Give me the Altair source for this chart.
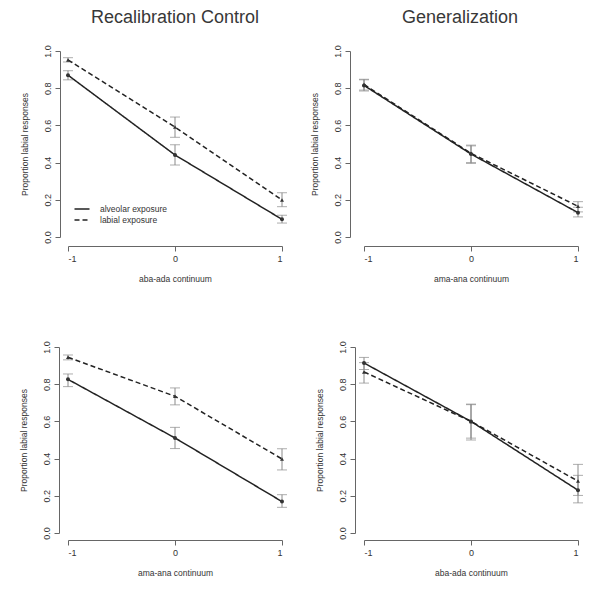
import altair as alt
import pandas as pd

x_levels = [-1, 0, 1]
y_ticks = [0.0, 0.2, 0.4, 0.6, 0.8, 1.0]
series_names = ["alveolar exposure", "labial exposure"]
series_shapes = ["circle", "triangle-up"]

panel_titles = ["Recalibration Control", "Generalization", "", ""]
x_titles = ["aba-ada continuum", "ama-ana continuum", "ama-ana continuum", "aba-ada continuum"]
y_title = "Proportion labial responses"

# Panel A: Recalibration Control (aba-ada)
a_alv = [0.870, 0.441, 0.095]
a_alv_lo = [0.845, 0.387, 0.075]
a_alv_hi = [0.894, 0.496, 0.117]
a_lab = [0.952, 0.591, 0.199]
a_lab_lo = [0.941, 0.536, 0.163]
a_lab_hi = [0.964, 0.645, 0.238]

# Panel B: Generalization (ama-ana)
b_alv = [0.815, 0.446, 0.131]
b_alv_lo = [0.785, 0.396, 0.108]
b_alv_hi = [0.845, 0.494, 0.160]
b_lab = [0.820, 0.450, 0.165]
b_lab_lo = [0.790, 0.400, 0.135]
b_lab_hi = [0.848, 0.490, 0.190]

# Panel C: Recalibration Control (ama-ana)
c_alv = [0.826, 0.511, 0.169]
c_alv_lo = [0.787, 0.454, 0.138]
c_alv_hi = [0.855, 0.568, 0.206]
c_lab = [0.945, 0.735, 0.398]
c_lab_lo = [0.931, 0.689, 0.339]
c_lab_hi = [0.957, 0.780, 0.453]

# Panel D: Generalization (aba-ada)
d_alv = [0.914, 0.600, 0.230]
d_alv_lo = [0.879, 0.500, 0.162]
d_alv_hi = [0.944, 0.693, 0.310]
d_lab = [0.866, 0.600, 0.279]
d_lab_lo = [0.806, 0.510, 0.202]
d_lab_hi = [0.916, 0.690, 0.369]

FONT = "Liberation Sans"
GREY = "#8a8a8a"
INK = "#222222"


def make_df(alv, alv_lo, alv_hi, lab, lab_lo, lab_hi):
    rows = []
    for name, ys, los, his in [
        (series_names[0], alv, alv_lo, alv_hi),
        (series_names[1], lab, lab_lo, lab_hi),
    ]:
        for xv, yv, lo, hi in zip(x_levels, ys, los, his):
            rows.append({"x": xv, "y": yv, "lo": lo, "hi": hi, "series": name})
    return pd.DataFrame(rows)


def panel(df, title, xtitle, legend, yoff, xoff, title_dx):
    xscale = alt.Scale(domain=[-1, 1], nice=False, zero=False)
    yscale = alt.Scale(domain=[0, 1], nice=False, zero=False)
    xaxis = alt.Axis(values=x_levels, title=xtitle, offset=xoff,
                     labelExpr="'' + datum.value", labelPadding=3, titlePadding=11)
    yaxis = alt.Axis(values=y_ticks, format=".1f", title=y_title, offset=yoff,
                     labelAngle=270, labelPadding=3, titlePadding=14)

    def X(f="x:Q"):
        return alt.X(f, scale=xscale, axis=xaxis)

    def Y(f):
        return alt.Y(f, scale=yscale, axis=yaxis)

    base = alt.Chart(df)
    err = base.mark_rule(color=GREY, strokeWidth=1).encode(
        x=X(), y=Y("lo:Q"), y2="hi:Q")
    caps = base.transform_fold(["lo", "hi"], as_=["end", "val"]).mark_tick(
        orient="horizontal", size=10, thickness=1, color=GREY
    ).encode(x=X(), y=Y("val:Q"))
    lines = base.mark_line(color=INK, strokeWidth=1.5).encode(
        x=X(), y=Y("y:Q"),
        strokeDash=alt.StrokeDash(
            "series:N",
            scale=alt.Scale(domain=series_names, range=[[1, 0], [5, 3]]),
            legend=legend,
        ),
    )
    layers = [err, caps, lines]
    for name, shp in zip(series_names, series_shapes):
        layers.append(
            base.transform_filter(alt.datum.series == name)
            .mark_point(filled=True, size=16, color="#333333", opacity=1, shape=shp)
            .encode(x=X(), y=Y("y:Q"))
        )
    ch = alt.layer(*layers).properties(width=214, height=186)
    if title:
        ch = ch.properties(title=alt.TitleParams(
            text=title, fontSize=18, font=FONT, fontWeight="normal",
            color="#383838", offset=18, frame="group", dx=title_dx))
    return ch


legend_a = alt.Legend(
    orient="none", legendX=8, legendY=152, title=None,
    symbolType="M-1.5,0H1.5", symbolSize=100, symbolStrokeWidth=1.5,
    symbolStrokeColor=INK, labelFontSize=8.5, labelFont=FONT, labelColor="#333333",
    labelOffset=12, rowPadding=0,
)

A = panel(make_df(a_alv, a_alv_lo, a_alv_hi, a_lab, a_lab_lo, a_lab_hi),
          panel_titles[0], x_titles[0], legend_a, 8, 9, 0)
B = panel(make_df(b_alv, b_alv_lo, b_alv_hi, b_lab, b_lab_lo, b_lab_hi),
          panel_titles[1], x_titles[1], None, 14, 9, -11)
C = panel(make_df(c_alv, c_alv_lo, c_alv_hi, c_lab, c_lab_lo, c_lab_hi),
          panel_titles[2], x_titles[2], None, 9, 7, 0)
D = panel(make_df(d_alv, d_alv_lo, d_alv_hi, d_lab, d_lab_lo, d_lab_hi),
          panel_titles[3], x_titles[3], None, 9, 7, 0)

chart = alt.concat(
    A, B, C, D, columns=2, spacing={"row": 110, "column": 82}, bounds="flush"
).properties(
    padding={"left": 11, "top": 0, "right": 0, "bottom": 0}
).configure_view(stroke=None).configure_axis(
    labelFont=FONT, titleFont=FONT, labelFontSize=9, titleFontSize=8.5,
    titleFontWeight="normal", labelColor="#333333", titleColor="#333333",
    domainColor="#666666", tickColor="#666666", tickSize=5, grid=False,
)

chart.save("out.html", embed_options={"renderer": "svg", "actions": False})
